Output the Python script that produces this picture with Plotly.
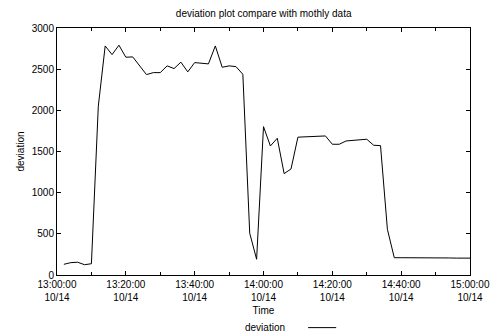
import plotly.graph_objects as go

DAY = "2013-10-14"

# sample times (HH:MM) and the deviation measured at each
times = [
    "13:02", "13:04", "13:06", "13:08", "13:10", "13:12", "13:14", "13:16", "13:18", "13:20",
    "13:22", "13:24", "13:26", "13:28", "13:30", "13:32", "13:34", "13:36", "13:38", "13:40",
    "13:42", "13:44", "13:46", "13:48", "13:50", "13:52", "13:54", "13:56", "13:58", "14:00",
    "14:02", "14:04", "14:06", "14:08", "14:10", "14:12", "14:14", "14:16", "14:18", "14:20",
    "14:22", "14:24", "14:26", "14:28", "14:30", "14:32", "14:34", "14:36", "14:38", "14:40",
    "14:42", "14:44", "14:46", "14:48", "14:50", "14:52", "14:54", "14:56", "14:58", "15:00",
]
deviation = [
    130, 150, 155, 125, 137, 2050, 2782, 2677, 2791, 2645,
    2649, 2540, 2434, 2458, 2458, 2540, 2507, 2585, 2467, 2580,
    2572, 2564, 2782, 2523, 2540, 2531, 2438, 507, 191, 1802,
    1567, 1661, 1231, 1288, 1674, 1678, 1685, 1687, 1689, 1588,
    1588, 1628, 1635, 1640, 1649, 1576, 1571, 555, 210, 210,
    210, 212, 214, 215, 213, 210, 207, 205, 205, 205,
]

x_start = "13:00:00"
x_end = "15:00:00"
title_text = "deviation plot compare with mothly data"
x_title = "Time"
y_title = "deviation"
series_name = "deviation"

xs = [f"{DAY} {t}:00" for t in times]

FONT = dict(family="Liberation Sans, Arial, sans-serif", size=10, color="black")

fig = go.Figure()
fig.add_trace(go.Scatter(
    x=xs, y=deviation, mode="lines", name=series_name,
    line=dict(color="black", width=1), showlegend=False,
))

axis_common = dict(
    showgrid=False, zeroline=False, automargin=False,
    showline=True, linecolor="black", linewidth=1, mirror="ticks",
    ticks="inside", ticklen=4, tickcolor="black", tickwidth=1,
    tickfont=FONT,
)

fig.update_xaxes(
    type="date",
    range=[f"{DAY} {x_start}", f"{DAY} {x_end}"],
    tick0=f"{DAY} {x_start}", dtick=20 * 60 * 1000,
    tickformat="%H:%M:%S<br>%m/%d",
    minor=dict(dtick=10 * 60 * 1000, ticks="inside", ticklen=3,
               tickcolor="black", showgrid=False),
    title=dict(text=x_title, font=FONT, standoff=4),
    **axis_common,
)
fig.update_yaxes(
    range=[0, 3000], dtick=500,
    title=dict(text=y_title, font=FONT, standoff=5),
    **axis_common,
)

# key for the series, drawn below the plot (text then line sample)
fig.add_annotation(
    xref="paper", yref="paper", x=0.557, y=-0.213,
    text=series_name, showarrow=False, font=FONT,
    xanchor="right", yanchor="middle",
)
fig.add_shape(
    type="line", xref="paper", yref="paper",
    x0=0.608, x1=0.676, y0=-0.213, y1=-0.213,
    line=dict(color="black", width=1),
)

fig.update_layout(
    width=491, height=336,
    margin=dict(l=57, r=21, t=28, b=61),
    paper_bgcolor="white", plot_bgcolor="white",
    font=FONT,
    title=dict(text=title_text, x=0.537, xanchor="center", y=0.96, yanchor="middle", font=FONT),
)

fig.write_html("out.html")
